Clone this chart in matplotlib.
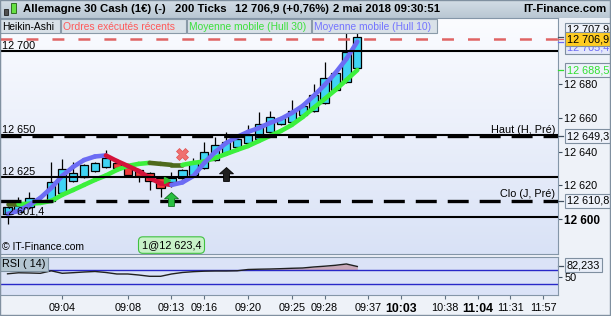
import matplotlib
matplotlib.use("Agg")
import matplotlib.pyplot as plt
import matplotlib.transforms as mtransforms
from matplotlib.collections import LineCollection
from matplotlib.colors import LinearSegmentedColormap
from matplotlib.patches import Rectangle
from matplotlib.path import Path
import numpy as np

plt.rcParams["font.family"] = ["Liberation Sans", "DejaVu Sans"]
plt.rcParams["lines.scale_dashes"] = False

W, H = 611, 316
FS = 7.8

# Heikin-Ashi candles, 200 ticks each
ha_open = [12603.0, 12604.0, 12607.0, 12610.2, 12610.5, 12615.5, 12622.5, 12625.0, 12628.5, 12631.0,
           12633.5, 12631.0, 12629.0, 12627.5, 12624.5, 12622.0, 12624.5, 12626.0, 12630.5, 12635.0,
           12639.5, 12643.0, 12645.0, 12647.5, 12651.5, 12656.5, 12657.5, 12662.0, 12664.0, 12669.0,
           12676.5, 12681.5, 12690.0]
ha_close = [12607.0, 12608.5, 12612.5, 12611.0, 12622.0, 12630.0, 12627.5, 12632.0, 12633.5, 12636.0,
            12630.5, 12626.0, 12625.5, 12622.5, 12618.5, 12624.5, 12629.0, 12634.0, 12640.0, 12644.0,
            12646.0, 12647.5, 12650.0, 12656.5, 12660.5, 12660.0, 12664.0, 12667.0, 12673.5, 12684.0,
            12687.0, 12699.0, 12708.0]
ha_high = [12608.0, 12613.0, 12616.0, 12612.0, 12634.0, 12635.5, 12634.0, 12632.5, 12634.0, 12641.0,
           12634.0, 12631.5, 12629.5, 12628.0, 12625.0, 12628.0, 12630.0, 12636.0, 12646.0, 12649.0,
           12652.0, 12648.0, 12656.0, 12663.5, 12664.0, 12660.5, 12671.0, 12667.5, 12680.0, 12693.0,
           12688.0, 12712.0, 12712.0]
ha_low = [12597.0, 12603.0, 12606.0, 12609.0, 12610.0, 12615.0, 12622.0, 12624.5, 12628.0, 12630.5,
          12630.0, 12625.5, 12622.0, 12617.0, 12613.0, 12619.0, 12624.0, 12625.5, 12630.0, 12634.5,
          12639.0, 12642.5, 12644.5, 12647.0, 12651.0, 12656.0, 12657.0, 12661.5, 12663.5, 12668.5,
          12676.0, 12681.0, 12689.5]

hull10 = [12603.1, 12604.9, 12608.4, 12612.6, 12618.5, 12625.7, 12631.0, 12635.1, 12637.2, 12637.8,
          12634.5, 12631.6, 12628.6, 12624.5, 12621.2, 12620.3, 12621.8, 12625.6, 12633.4, 12639.9,
          12645.2, 12648.8, 12651.8, 12654.1, 12657.1, 12659.5, 12663.0, 12667.2, 12673.1, 12679.6,
          12686.8, 12695.1, 12705.4]
hull30 = [12609.0, 12609.0, 12609.1, 12609.6, 12610.8, 12614.4, 12617.3, 12620.3, 12623.3, 12625.9,
          12629.2, 12631.6, 12632.8, 12633.4, 12632.8, 12632.2, 12632.2, 12633.4, 12634.2, 12636.3,
          12638.7, 12641.1, 12643.4, 12646.4, 12649.4, 12652.3, 12655.9, 12660.6, 12666.0, 12671.3,
          12676.7, 12682.6, 12688.5]
rsi14 = [59.8, 62.9, 62.3, 61.3, 69.0, 61.3, 63.2, 65.3, 66.9, 63.8, 59.2, 59.2, 56.1, 52.1, 52.1,
         59.2, 63.8, 66.3, 67.8, 68.4, 68.4, 69.0, 73.0, 73.9, 74.5, 75.5, 76.7, 77.6, 80.7, 83.1,
         85.9, 89.9, 82.2]

time_pos = [5, 11, 15, 18, 22, 26, 29, 33, 36, 40, 43, 46, 49]
time_labels = ["09:04", "09:08", "09:13", "09:16", "09:20", "09:25", "09:28", "09:37",
               "10:03", "10:38", "11:04", "11:31", "11:57"]
bold_times = ["10:03", "11:04"]

last_price = 12706.9
round_levels = [12700, 12650, 12625, 12601.4]
prev_high = 12649.3
prev_close = 12610.8
price_ticks = [12680, 12660, 12640, 12620, 12600]
top_quote = 12707.9

order_idx = 15
order_price = 12623.4
buy_signal = (15, 12612.0)
sell_signal = (16, 12638.7)
up_signal = (20, 12626.8)

rsi_upper, rsi_lower = 70, 30


def fr(v, nd=1):
    return f"{v:,.{nd}f}".replace(",", " ").replace(".", ",")


def fig_rect(x, y, w, h, **kw):
    fig.add_artist(Rectangle((x / W, 1 - (y + h) / H), w / W, h / H,
                             transform=fig.transFigure, **kw))


def fig_text(x, y, s, **kw):
    fig.text(x / W, 1 - y / H, s, **kw)


fig = plt.figure(figsize=(W / 100, H / 100), dpi=100, facecolor="#eef2f8")

# title bar
tb = fig.add_axes([0, 1 - 18 / H, 1, 18 / H])
tb.imshow(np.linspace(0, 1, 64).reshape(-1, 1), aspect="auto", extent=[0, 1, 0, 1],
          cmap=LinearSegmentedColormap.from_list("tb", ["#d3dde6", "#b9c7d3"]))
tb.axis("off")
fig_rect(4, 9, 4, 6, fc="#505050", ec="#202020", lw=0.6)
fig_rect(11, 3, 5, 10, fc="#66e044", ec="#206010", lw=0.6)
fig_text(23, 9, "Allemagne 30 Cash (1€) (-)", fontsize=8.2, fontweight="bold", va="center")
fig_text(175, 9, "200 Ticks", fontsize=8.2, fontweight="bold", va="center")
fig_text(235, 9, f"{fr(last_price)} (+0,76%)", fontsize=8.2, fontweight="bold", va="center")
fig_text(333, 9, "2 mai 2018 09:30:51", fontsize=8.2, fontweight="bold", va="center")
fig_text(607, 9, "IT-Finance.com", fontsize=8.2, fontweight="bold", va="center", ha="right")

bg = LinearSegmentedColormap.from_list("bg", ["#fbfcff", "#d9e2f6"])

# main price panel
ax = fig.add_axes([0, 62 / H, 558 / W, 236 / H])
ax.imshow(np.linspace(0, 1, 128).reshape(-1, 1), aspect="auto", extent=[0, 1, 0, 1],
          transform=ax.transAxes, cmap=bg, zorder=0)

idx = np.arange(len(ha_open))
o = np.array(ha_open)
c = np.array(ha_close)
up = c >= o
ax.vlines(idx, ha_low, ha_high, color="black", lw=0.9, zorder=3)
ax.bar(idx, np.abs(c - o), bottom=np.minimum(o, c), width=0.76,
       color=np.where(up, "#3fd4f4", "#f03a3a"), edgecolor="black", linewidth=0.9, zorder=4)


def hull_line(vals, up_col, down_col, thr):
    pts = np.column_stack([idx, vals])
    segs = np.stack([pts[:-1], pts[1:]], axis=1)
    d = np.diff(vals)
    cols = [up_col if v > thr else down_col for v in d]
    lc = LineCollection(segs, colors=cols, linewidths=3.3, capstyle="round",
                        joinstyle="round", zorder=6)
    ax.add_collection(lc)


hull_line(np.array(hull30), "#3cf03c", "#4f6a1c", 0.0)
hull_line(np.array(hull10), "#6c6cf4", "#d4123a", 0.0)

xl = (-0.69, 50.36)
trans_l = mtransforms.blended_transform_factory(ax.transAxes, ax.transData)
for lv in round_levels:
    ax.axhline(lv, color="black", lw=1.5, zorder=7)
    txt = fr(lv, 0) if float(lv).is_integer() else fr(lv)
    ax.annotate(txt, xy=(0, lv), xycoords=trans_l, xytext=(1.5, 1.5),
                textcoords="offset points", fontsize=FS, va="baseline", ha="left", zorder=9)
for lv, name in [(prev_high, "Haut (H, Pré)"), (prev_close, "Clo (J, Pré)")]:
    ax.axhline(lv, color="black", lw=2.4, dashes=(15.1, 7.9), zorder=7)
    ax.annotate(name, xy=(1, lv), xycoords=trans_l, xytext=(-2, 2.5),
                textcoords="offset points", fontsize=FS, va="baseline", ha="right", zorder=9)
ax.axhline(last_price, color="#e06464", lw=1.8, dashes=(8.6, 10.1), zorder=7)

# signals
arrow = Path([(0, 1), (-1, 0.1), (-0.42, 0.1), (-0.42, -1), (0.42, -1), (0.42, 0.1), (1, 0.1), (0, 1)],
             [Path.MOVETO] + [Path.LINETO] * 6 + [Path.CLOSEPOLY])
ax.plot(*buy_signal, marker=arrow, ms=10, color="#28c040", mec="#107020", mew=0.6, zorder=8)
ax.plot(*up_signal, marker=arrow, ms=10, color="#202020", mec="black", mew=0.6, zorder=8)
ax.plot(*sell_signal, marker="X", ms=8, color="#f07070", mec="#e05050", mew=0.5, zorder=8)
ax.plot(order_idx - 0.45, order_price, marker=">", ms=5, color="#30c030", zorder=8)
ax.text(order_idx, 12584.6, f"1@{fr(order_price)}", fontsize=FS, ha="center", va="center",
        bbox=dict(boxstyle="round,pad=0.3,rounding_size=0.4", fc="#c8f2c8", ec="#40c040", lw=0.8),
        zorder=9)
ax.text(0.004, 12583.5, "© IT-Finance.com", transform=trans_l, fontsize=7.5, va="center", zorder=9)

ax.set_xlim(*xl)
ax.set_ylim(12579.3, 12719.4)
ax.set_xticks([])
ax.yaxis.tick_right()
ax.set_yticks(price_ticks)
ax.set_yticklabels([fr(v, 0) for v in price_ticks])
ax.tick_params(axis="y", length=3, pad=1.5, labelsize=FS, color="#405060")
for t in ax.get_yticklabels():
    if t.get_text() == "12 600":
        t.set_fontweight("bold")
        t.set_fontsize(8.5)
for s in ax.spines.values():
    s.set_color("#8496a8")


def axis_box(val, txt, tc, fc, dy, z, tick_col="#405060"):
    ax.plot([1.0, 1.009], [val, val], transform=trans_l, color=tick_col, lw=0.9, clip_on=False, zorder=z)
    ax.annotate(txt, xy=(1, val), xycoords=trans_l, xytext=(6.3, dy), textcoords="offset points",
                fontsize=FS, color=tc, va="center", ha="left", annotation_clip=False, zorder=z,
                bbox=dict(boxstyle="square,pad=0.18", fc=fc, ec="#7f8fa0", lw=0.8))


axis_box(top_quote, fr(top_quote), "black", "#eef2fa", 5.6, 10)
axis_box(hull10[-1], fr(hull10[-1]), "#6c6cf4", "#e4e8fa", -4.2, 11, "#6c6cf4")
axis_box(last_price, fr(last_price), "black", "#ffcc22", 0, 12, "#e06464")
axis_box(hull30[-1], fr(hull30[-1]), "#30e030", "#eef2fa", 0, 10, "#30e030")
axis_box(prev_high, fr(prev_high), "black", "#eef2fa", 0, 10)
axis_box(prev_close, fr(prev_close), "black", "#eef2fa", 0, 10)

# legend strip
for x0, w, label, col in [(0, 60, "Heikin-Ashi", "black"),
                          (61, 125, "Ordres exécutés récents", "#ff5a5a"),
                          (187, 124, "Moyenne mobile (Hull 30)", "#3ce03c"),
                          (312, 125, "Moyenne mobile (Hull 10)", "#7474ff")]:
    fig_rect(x0, 19, w, 14, fc="#d9e1e8", ec="#8a9aa8", lw=0.8, zorder=20)
    fig_text(x0 + 2, 26.5, label, fontsize=7.4, color=col, va="center", zorder=21)

# RSI panel
rx = fig.add_axes([0, 21 / H, 558 / W, 38 / H])
rx.set_facecolor("#dbe3f7")
r = np.array(rsi14)
rx.fill_between(idx, r, rsi_upper, where=r > rsi_upper, interpolate=True, color="#c8a8b8", lw=0)
rx.axhline(rsi_upper, color="#2828c8", lw=1)
rx.axhline(rsi_lower, color="#2828c8", lw=1)
rx.plot(idx, r, color="#202020", lw=1)
rx.set_xlim(*xl)
rx.set_ylim(-5.2, 111.3)
rx.yaxis.tick_right()
rx.set_yticks([50])
rx.set_yticklabels(["50"])
rx.tick_params(axis="y", length=3, pad=1.5, labelsize=FS, color="#405060")
rx.set_xticks(time_pos)
rx.set_xticklabels(time_labels)
rx.tick_params(axis="x", length=3, pad=3, labelsize=FS, color="#607080")
for t in rx.get_xticklabels():
    if t.get_text() in bold_times:
        t.set_fontweight("bold")
        t.set_fontsize(8.8)
for s in rx.spines.values():
    s.set_color("#8496a8")
trans_r = mtransforms.blended_transform_factory(rx.transAxes, rx.transData)
rx.plot([1.0, 1.009], [rsi14[-1]] * 2, transform=trans_r, color="#405060", lw=0.9, clip_on=False)
rx.annotate(fr(rsi14[-1] + 0.033, 3), xy=(1, rsi14[-1]), xycoords=trans_r, xytext=(6.3, 1),
            textcoords="offset points", fontsize=FS, va="center", annotation_clip=False,
            bbox=dict(boxstyle="square,pad=0.15", fc="#e8eef8", ec="#7f8fa0", lw=0.8))
rx.text(0.004, 0.82, "RSI ( 14)", transform=rx.transAxes, fontsize=FS, va="center",
        bbox=dict(boxstyle="square,pad=0.2", fc="#b4c6d2", ec="#7f93a3", lw=0.8))

fig_rect(0, 0, W - 1, H - 1, fill=False, ec="#8090a0", lw=1, zorder=30)

fig.savefig("out.png", dpi=100, facecolor=fig.get_facecolor())
